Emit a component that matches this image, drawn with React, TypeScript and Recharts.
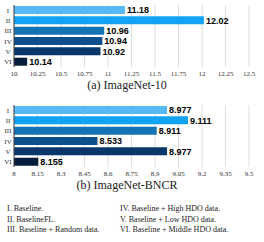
import React from "react";
import {
  BarChart,
  Bar,
  XAxis,
  YAxis,
  CartesianGrid,
  Cell,
  LabelList,
} from "recharts";

// Method categories (rows)
const categories: string[] = ["I", "II", "III", "IV", "V", "VI"];

// Values per dataset
const imagenet10: number[] = [11.18, 12.02, 10.96, 10.94, 10.92, 10.14];
const imagenetBncr: number[] = [8.977, 9.111, 8.911, 8.533, 8.977, 8.155];

// Axis ticks
const ticksA: number[] = [10, 10.25, 10.5, 10.75, 11, 11.25, 11.5, 11.75, 12, 12.25, 12.5];
const ticksB: number[] = [8, 8.15, 8.3, 8.45, 8.6, 8.75, 8.9, 9.05, 9.2, 9.35, 9.5];

const barColors: string[] = ["#56b9f4", "#12a3f7", "#1473b5", "#0c4f8c", "#08386b", "#061c3d"];

const legendLeft: string[] = ["I. Baseline.", "II. BaselineFL.", "III. Baseline + Random data."];
const legendRight: string[] = [
  "IV. Baseline + High HDO data.",
  "V. Baseline + Low HDO data.",
  "VI. Baseline + Middle HDO data.",
];

const serif = "'Liberation Serif', 'Times New Roman', serif";
const sans = "'Liberation Sans', Arial, sans-serif";

// Y axis category tick, centered left of the axis
const CategoryTick = (props: any) => {
  const { y, payload } = props;
  return (
    <text x={8} y={y} dy="0.35em" textAnchor="middle" fontSize={7} fontFamily={serif} fill="#333">
      {payload.value}
    </text>
  );
};

interface PanelProps {
  values: number[];
  ticks: number[];
  top: number;
  title: string;
}

const Panel: React.FC<PanelProps> = ({ values, ticks, top, title }) => {
  const data = categories.map((name, i) => ({ name, value: values[i] }));
  return (
    <>
      <div style={{ position: "absolute", left: 0, top }}>
        <BarChart
          width={264}
          height={80}
          data={data}
          layout="vertical"
          margin={{ top: 5, right: 15, bottom: 0, left: 0 }}
          barCategoryGap="10%"
        >
          <CartesianGrid horizontal={false} stroke="#dddddd" />
          <XAxis
            type="number"
            domain={[ticks[0], ticks[ticks.length - 1]]}
            ticks={ticks}
            height={13}
            axisLine={false}
            tickLine={false}
            tickSize={0}
            tickMargin={4}
            interval={0}
            tick={{ fontSize: 7, fontFamily: serif, fill: "#333" }}
          />
          <YAxis
            type="category"
            dataKey="name"
            width={14}
            interval={0}
            axisLine={{ stroke: "#444" }}
            tickLine={false}
            tick={<CategoryTick />}
          />
          <Bar dataKey="value" isAnimationActive={false}>
            {data.map((d, i) => (
              <Cell key={d.name} fill={barColors[i]} />
            ))}
            <LabelList
              dataKey="value"
              position="right"
              offset={2}
              fill="#000"
              fontSize={9}
              fontWeight="bold"
              fontFamily={sans}
            />
          </Bar>
        </BarChart>
      </div>
      <div
        style={{
          position: "absolute",
          left: 0,
          top: top + 78,
          width: 254,
          textAlign: "center",
          fontFamily: serif,
          fontSize: 12,
          lineHeight: "14px",
          color: "#222",
        }}
      >
        {title}
      </div>
    </>
  );
};

const App: React.FC = () => {
  const legendStyle: React.CSSProperties = {
    position: "absolute",
    top: 204,
    fontFamily: serif,
    fontSize: 8,
    lineHeight: "10.5px",
    color: "#222",
    whiteSpace: "nowrap",
  };
  return (
    <div
      style={{
        position: "absolute",
        left: 0,
        top: 0,
        width: 264,
        height: 242,
        background: "#fff",
        overflow: "hidden",
      }}
    >
      <Panel values={imagenet10} ticks={ticksA} top={0} title="(a) ImageNet-10" />
      <Panel values={imagenetBncr} ticks={ticksB} top={100} title="(b) ImageNet-BNCR" />
      <div style={{ ...legendStyle, left: 7 }}>
        {legendLeft.map((t) => (
          <div key={t}>{t}</div>
        ))}
      </div>
      <div style={{ ...legendStyle, left: 120 }}>
        {legendRight.map((t) => (
          <div key={t}>{t}</div>
        ))}
      </div>
    </div>
  );
};

export default App;
